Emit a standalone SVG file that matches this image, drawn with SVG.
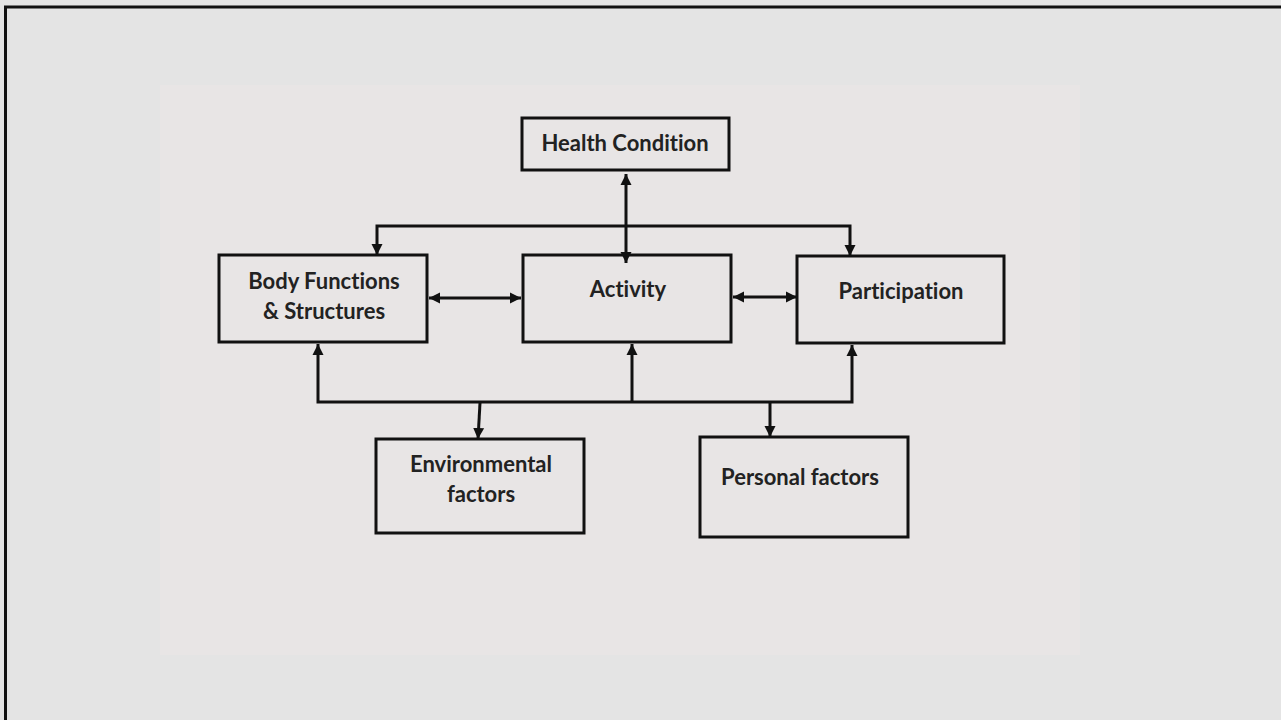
<svg xmlns="http://www.w3.org/2000/svg" width="1281" height="720" viewBox="0 0 1281 720">
<defs>
<marker id="ah" viewBox="0 0 10 10" refX="10" refY="5" markerWidth="11" markerHeight="12" markerUnits="userSpaceOnUse" orient="auto-start-reverse">
<path d="M0,0 L10,5 L0,10 Z" fill="#111"/>
</marker>
<style>
.box{fill:none;stroke:#111;stroke-width:3}
.lbl{font-family:Lato,"Open Sans","Liberation Sans",sans-serif;font-weight:bold;font-size:22px;fill:#222;text-anchor:middle;font-variant-ligatures:none}
.ln{fill:none;stroke:#111;stroke-width:3}
</style>
</defs>
<rect x="0" y="0" width="1281" height="720" fill="#e4e4e4"/>
<rect x="160" y="85" width="920" height="570" fill="#e8e5e5"/>
<path d="M5.5,720 V7 H1281" fill="none" stroke="#111" stroke-width="3"/>
<g id="connectors">
<line class="ln" x1="626" y1="174" x2="626" y2="263" marker-start="url(#ah)" marker-end="url(#ah)"/>
<path class="ln" d="M377,255 V226 H850 V256" marker-start="url(#ah)" marker-end="url(#ah)"/>
<line class="ln" x1="429" y1="298" x2="521" y2="298" marker-start="url(#ah)" marker-end="url(#ah)"/>
<line class="ln" x1="733" y1="297" x2="797" y2="297" marker-start="url(#ah)" marker-end="url(#ah)"/>
<path class="ln" d="M318,344 V402 H852 V345" marker-start="url(#ah)" marker-end="url(#ah)"/>
<line class="ln" x1="632" y1="402" x2="632" y2="344" marker-end="url(#ah)"/>
<line class="ln" x1="480" y1="403" x2="478" y2="439" marker-end="url(#ah)"/>
<line class="ln" x1="770" y1="402" x2="770" y2="437" marker-end="url(#ah)"/>
</g>
<g id="health">
<rect class="box" x="522" y="118" width="207" height="52"/>
<text class="lbl" x="625" y="151">Health Condition</text>
</g>
<g id="body">
<rect class="box" x="219" y="255" width="208" height="87"/>
<text class="lbl" x="324" y="289">Body Functions</text>
<text class="lbl" x="324" y="319">&amp; Structures</text>
</g>
<g id="activity">
<rect class="box" x="523" y="255" width="208" height="87"/>
<text class="lbl" x="628" y="297">Activity</text>
</g>
<g id="participation">
<rect class="box" x="797" y="256" width="207" height="87"/>
<text class="lbl" x="901" y="299">Participation</text>
</g>
<g id="environmental">
<rect class="box" x="376" y="439" width="208" height="94"/>
<text class="lbl" x="481" y="472">Environmental</text>
<text class="lbl" x="481" y="502">factors</text>
</g>
<g id="personal">
<rect class="box" x="700" y="437" width="208" height="100"/>
<text class="lbl" x="800" y="485">Personal factors</text>
</g>
</svg>
